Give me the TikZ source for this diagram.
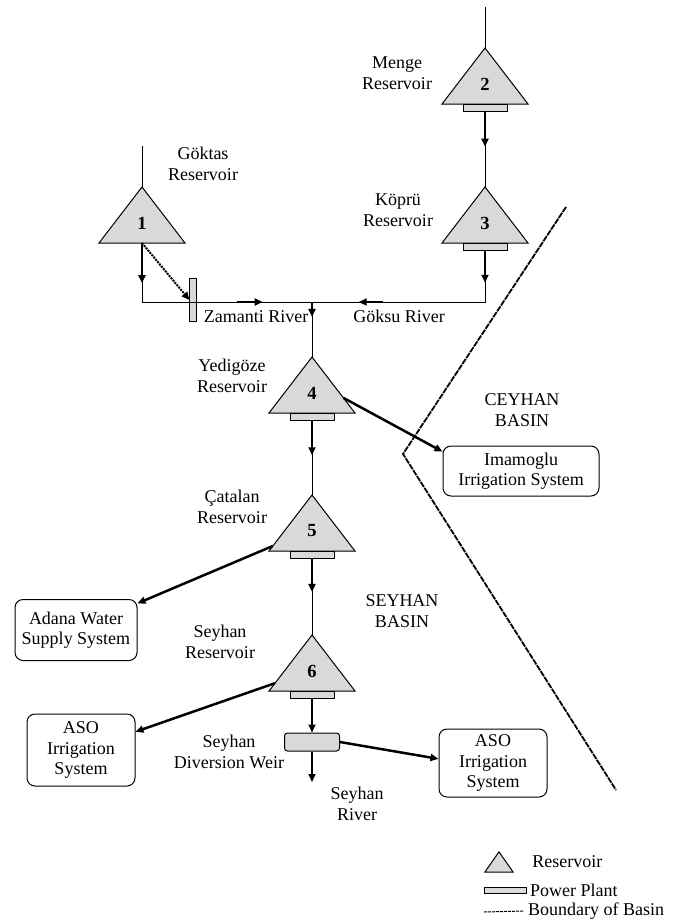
\documentclass[tikz,border=0pt]{standalone}
\usepackage{fontspec}
\setmainfont{Liberation Serif}
\usetikzlibrary{positioning,calc,backgrounds,arrows.meta}

\definecolor{resgray}{RGB}{217,217,217}

\begin{document}
\begin{tikzpicture}[x=1pt, y=-1pt, font=\fontsize{18}{20.5}\selectfont,
    resv/.style = {minimum width=86pt, minimum height=56pt, inner sep=0pt, outer sep=0pt,
      label={[font=\fontsize{18.5}{20}\selectfont\bfseries, yshift=-8pt]center:#1}},
    plant/.style = {draw, fill=resgray, line width=1pt, minimum width=44pt, minimum height=7pt, inner sep=0pt, outer sep=0pt},
    weirbox/.style = {draw, fill=resgray, line width=1pt, rounded corners=3pt, minimum width=55pt, minimum height=18pt, inner sep=0pt},
    gatebox/.style = {draw, fill=resgray, line width=1pt, minimum width=7pt, minimum height=43pt, inner sep=0pt, outer sep=0pt},
    sysbox/.style = {draw, line width=1pt, rounded corners=8pt, align=center, inner sep=0pt},
    txt/.style = {align=center, inner sep=0pt},
    river/.style = {line width=1pt},
    flow/.style = {line width=2.5pt, -{Triangle[length=8pt,width=7pt]}},
    spill/.style = {line width=2pt, densely dotted, -{Triangle[length=8pt,width=7pt]}},
    bound/.style = {line width=1.8pt, dash pattern=on 6pt off 1pt}]
\useasboundingbox (0,0) rectangle (681,922);

% reservoirs and power plants
\node[resv=1] (r1) at (142,215) {};
\node[resv=2] (r2) at (485,76) {};
\node[plant, below=0pt of r2] (p2) {};
\node[resv=3] (r3) at (485,215) {};
\node[plant, below=0pt of r3] (p3) {};
\node[resv=4] (r4) at (312,385) {};
\node[plant, below=0pt of r4] (p4) {};
\node[resv=5] (r5) at (312,523) {};
\node[plant, below=0pt of r5] (p5) {};
\node[resv=6] (r6) at (312,663) {};
\node[plant, below=0pt of r6] (p6) {};
\node[gatebox] (g) at (193,300) {};
\node[weirbox] (w) at (312,742) {};

% demand systems
\node[sysbox, minimum width=156pt, minimum height=50pt] (imam) at (521,471) {Imamoglu\\Irrigation System};
\node[sysbox, minimum width=122pt, minimum height=61pt] (adana) at (76,630) {Adana Water\\Supply System};
\node[sysbox, minimum width=108pt, minimum height=72pt] (aso1) at (81,750) {ASO\\Irrigation\\System};
\node[sysbox, minimum width=108pt, minimum height=68pt] (aso2) at (493,763) {ASO\\Irrigation\\System};

% labels
\node[txt] (l1) at (203,164) {Göktas\\Reservoir};
\node[txt] (l2) at (397,73) {Menge\\Reservoir};
\node[txt] (l3) at (398,210) {Köprü\\Reservoir};
\node[txt] (l4) at (232,376) {Yedigöze\\Reservoir};
\node[txt] (l5) at (232,507) {Çatalan\\Reservoir};
\node[txt] (l6) at (220,642) {Seyhan\\Reservoir};
\node[txt] (lw) at (229,752) {Seyhan\\Diversion Weir};
\node[txt] (lsr) at (357,804) {Seyhan\\River};
\node[txt] (lzr) at (256,317) {Zamanti River};
\node[txt] (lgr) at (399,316) {Göksu River};
\node[txt] (lceyhan) at (522,410) {CEYHAN\\BASIN};
\node[txt] (lseyhan) at (402,611) {SEYHAN\\BASIN};

\coordinate (s1) at (142,146);
\coordinate (s2) at (485,7);
\coordinate (c1) at (142,302);
\coordinate (c3) at (485,302);
\coordinate (j) at (312,302);
\coordinate (out) at (312,782);

% rivers
\draw[river] (s2) -- (r2.north);
\draw[river] (s1) -- (r1.north);
\draw[river] (p2.south) -- (r3.north);
\draw[flow] (p2.south) -- ($(p2.south)!0.47!(r3.north)$);
\draw[river] (r1.south) -- (c1) -- (c3) -- (p3.south);
\draw[flow] (r1.south) -- ($(r1.south)!0.68!(c1)$);
\draw[flow] (p3.south) -- ($(p3.south)!0.63!(c3)$);
\draw[flow] ($(c1)!0.56!(j)$) -- ($(c1)!0.71!(j)$);
\draw[flow] ($(c3)!0.59!(j)$) -- ($(c3)!0.73!(j)$);
\draw[spill] (r1.south) -- (g.west);
\draw[river] (j) -- (r4.north);
\draw[flow] (j) -- ($(j)!0.27!(r4.north)$);
\draw[river] (p4.south) -- (r5.north);
\draw[flow] (p4.south) -- ($(p4.south)!0.47!(r5.north)$);
\draw[river] (p5.south) -- (r6.north);
\draw[flow] (p5.south) -- ($(p5.south)!0.44!(r6.north)$);
\draw[flow] (p6.south) -- (w.north);
\draw[flow] (w.south) -- (out);

% releases to demands
\draw[flow] ($(r4.north)!0.73!(r4.south east)$) -- ($(imam.north west)!0.12!(imam.south west)$);
\draw[flow] ($(r5.north)!0.91!(r5.south west)$) -- ($(adana.north east)!0.07!(adana.south east)$);
\draw[flow] ($(r6.north)!0.86!(r6.south west)$) -- ($(aso1.north east)!0.25!(aso1.south east)$);
\draw[flow] (w.east) -- ($(aso2.north west)!0.44!(aso2.south west)$);

% basin boundary
\coordinate (b1) at (566,207);
\coordinate (b2) at (403,454);
\coordinate (b3) at (616,790);
\draw[bound] (b1) -- (b2) -- (b3);

% legend
\node[minimum width=28pt, minimum height=20pt, inner sep=0pt] (lgr) at (499,862) {};
\node[txt, right=19pt of lgr] (lgrt) {Reservoir};
\node[plant, minimum width=42pt, minimum height=6pt] (lgp) at (505,890) {};
\node[txt, right=4pt of lgp] (lgpt) {Power Plant};
\node[txt, anchor=west] (lgbt) at (528,911) {Boundary of Basin};
\coordinate (lgb) at (484,912);
\draw[bound, line width=1pt, dash pattern=on 3pt off 1pt] (lgb) -- ([xshift=-4pt]lgbt.west);

\begin{scope}[on background layer]
  \foreach \r in {r1,r2,r3,r4,r5,r6,lgr}
    \filldraw[fill=resgray, line width=1pt] (\r.north) -- (\r.south east) -- (\r.south west) -- cycle;
\end{scope}
\end{tikzpicture}
\end{document}
